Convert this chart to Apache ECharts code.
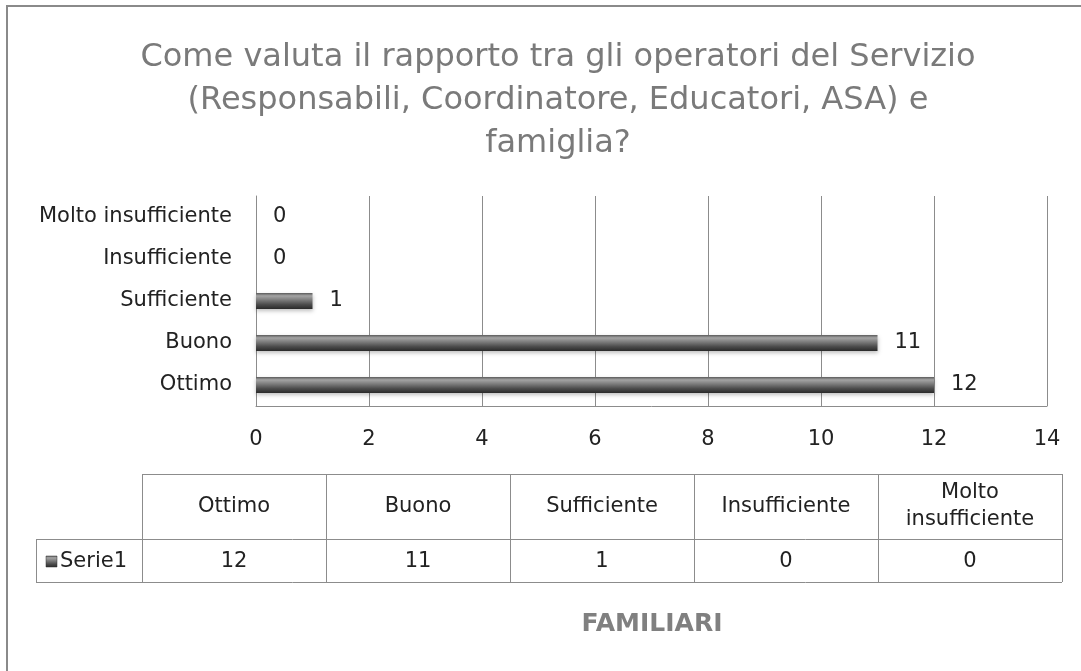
<!DOCTYPE html>
<html>
<head>
<meta charset="utf-8">
<script src="https://cdn.jsdelivr.net/npm/echarts@6/dist/echarts.min.js"></script>
<style>
  html, body { margin: 0; padding: 0; background: #fff; }
  #chart { width: 1081px; height: 671px; }
</style>
</head>
<body>
<div id="chart"></div>
<script>
// dati
const categories = ["Ottimo", "Buono", "Sufficiente", "Insufficiente", "Molto insufficiente"];
const tableHeaders = ["Ottimo", "Buono", "Sufficiente", "Insufficiente", ["Molto", "insufficiente"]];
const values = [12, 11, 1, 0, 0];
const seriesName = "Serie1";
const titleText = "Come valuta il rapporto tra gli operatori del Servizio\n(Responsabili, Coordinatore, Educatori, ASA) e\nfamiglia?";
const axisTitle = "FAMILIARI";

const FONT = "DejaVu Sans";
const barColor = new echarts.graphic.LinearGradient(0, 0, 0, 1, [
  { offset: 0, color: "#5a5a5a" },
  { offset: 0.18, color: "#a4a4a4" },
  { offset: 0.42, color: "#7e7e7e" },
  { offset: 0.72, color: "#4c4c4c" },
  { offset: 1, color: "#2a2a2a" }
]);

const chart = echarts.init(document.getElementById("chart"));

// tabella dati sotto il grafico
const tabLeft = 142, tabRight = 1062, tabTop = 474, rowSplit = 539, tabBottom = 582, keyLeft = 36;
const colW = (tabRight - tabLeft) / categories.length;
const lineStyle = { stroke: "#8c8c8c", lineWidth: 1 };
const txt = { fontFamily: FONT, fontSize: 21, fill: "#222" };
const table = [];
const hl = (x1, x2, y) => table.push({ type: "line", shape: { x1, y1: y + 0.5, x2, y2: y + 0.5 }, style: lineStyle });
const vl = (x, y1, y2) => table.push({ type: "line", shape: { x1: x + 0.5, y1, x2: x + 0.5, y2 }, style: lineStyle });
hl(tabLeft, tabRight, tabTop);
hl(keyLeft, tabRight, rowSplit);
hl(keyLeft, tabRight, tabBottom);
vl(keyLeft, rowSplit, tabBottom);
for (let i = 0; i <= categories.length; i++) vl(Math.round(tabLeft + i * colW), tabTop, tabBottom);
tableHeaders.forEach((h, i) => {
  const cx = tabLeft + (i + 0.5) * colW;
  table.push({
    type: "text",
    style: Object.assign({
      x: cx, y: (tabTop + rowSplit) / 2,
      text: Array.isArray(h) ? h.join("\n") : h,
      align: "center", verticalAlign: "middle", lineHeight: 27
    }, txt)
  });
  table.push({
    type: "text",
    style: Object.assign({
      x: cx, y: (rowSplit + tabBottom) / 2 + 1,
      text: String(values[i]),
      align: "center", verticalAlign: "middle"
    }, txt)
  });
});
table.push({ type: "rect", shape: { x: 46, y: 556, width: 11, height: 11 }, style: { fill: barColor, stroke: "#333", lineWidth: 0.5 } });
table.push({
  type: "text",
  style: Object.assign({ x: 60, y: (rowSplit + tabBottom) / 2 + 1, text: seriesName, align: "left", verticalAlign: "middle" }, txt)
});

// bordo esterno (solo sinistra e alto visibili)
table.push({ type: "polyline", shape: { points: [[7, 671], [7, 6], [1081, 6]] }, style: { stroke: "#8a8a8a", lineWidth: 2, fill: null } });

chart.setOption({
  backgroundColor: "#fff",
  textStyle: { fontFamily: FONT },
  title: {
    text: titleText,
    left: 553, textAlign: "center", top: 31,
    textStyle: { color: "#7a7a7a", fontSize: 32, fontWeight: "normal", lineHeight: 43, fontFamily: FONT }
  },
  grid: { left: 256, right: 34, top: 196, height: 210 },
  xAxis: {
    type: "value", min: 0, max: 14, interval: 2,
    axisLine: { show: true, lineStyle: { color: "#8c8c8c" } },
    axisTick: { show: false },
    axisLabel: { color: "#222", fontSize: 21, margin: 23, fontFamily: FONT },
    splitLine: { show: true, lineStyle: { color: "#8c8c8c", width: 1 } }
  },
  yAxis: {
    type: "category", data: categories,
    axisLine: { show: true, lineStyle: { color: "#8c8c8c" } },
    axisTick: { show: false },
    axisLabel: { color: "#222", fontSize: 21, margin: 24, fontFamily: FONT },
    splitLine: { show: false }
  },
  series: [{
    name: seriesName,
    type: "bar",
    data: values,
    barWidth: 16,
    itemStyle: { color: barColor, shadowColor: "rgba(0,0,0,0.25)", shadowBlur: 4, shadowOffsetY: 2 },
    label: { show: true, position: "right", distance: 17, color: "#222", fontSize: 21, fontFamily: FONT }
  }],
  graphic: [
    { type: "group", silent: true, children: table },
    {
      type: "text", silent: true,
      style: { x: 652, y: 624, text: axisTitle, align: "center", verticalAlign: "middle", fontFamily: FONT, fontSize: 25, fontWeight: "bold", fill: "#808080" }
    }
  ]
});
</script>
</body>
</html>
